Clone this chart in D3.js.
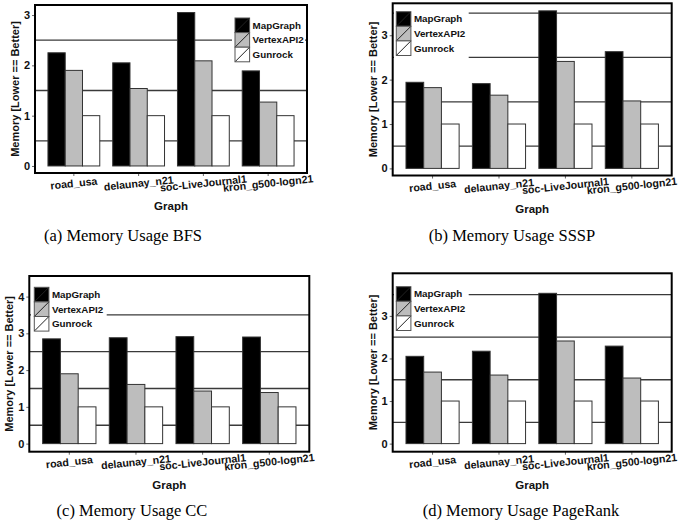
<!DOCTYPE html>
<html>
<head>
<meta charset="utf-8">
<script src="https://cdn.jsdelivr.net/npm/d3@7"></script>
<style>
  body { margin: 0; background: #fff; }
  svg { display: block; }
  .tick text { font-family: "Liberation Sans", Arial, sans-serif; font-weight: bold; fill: #111; }
</style>
</head>
<body>
<svg id="chart"></svg>
<script>
// categories and series
const graphs = ["road_usa", "delaunay_n21", "soc-LiveJournal1", "kron_g500-logn21"];
const series = ["MapGraph", "VertexAPI2", "Gunrock"];
const seriesColors = ["#000000", "#bdbdbd", "#ffffff"];

// normalized memory usage (Gunrock == 1)
const bfsMapGraph = [2.25, 2.05, 3.05, 1.89];
const bfsVertexAPI2 = [1.90, 1.54, 2.09, 1.27];
const bfsGunrock = [1, 1, 1, 1];

const ssspMapGraph = [1.94, 1.91, 3.55, 2.63];
const ssspVertexAPI2 = [1.82, 1.65, 2.41, 1.52];
const ssspGunrock = [1, 1, 1, 1];

const ccMapGraph = [2.85, 2.88, 2.91, 2.90];
const ccVertexAPI2 = [1.90, 1.61, 1.43, 1.39];
const ccGunrock = [1, 1, 1, 1];

const prMapGraph = [2.05, 2.17, 3.53, 2.29];
const prVertexAPI2 = [1.68, 1.61, 2.41, 1.54];
const prGunrock = [1, 1, 1, 1];

const yTicksA = [0, 1, 2, 3];
const yTicksB = [0, 1, 2, 3];
const yTicksC = [0, 1, 2, 3, 4];
const yTicksD = [0, 1, 2, 3];

const captions = ["(a) Memory Usage BFS", "(b) Memory Usage SSSP", "(c) Memory Usage CC", "(d) Memory Usage PageRank"];

const W = 694, H = 524;
const svg = d3.select("#chart").attr("width", W).attr("height", H);
svg.append("rect").attr("width", W).attr("height", H).attr("fill", "#fff");

// layout of each panel (frame in panel coords)
const panels = [
  { ox: 0, oy: 0, frame: [35, 307, 5, 173], domain: [-0.14, 3.2], ticks: yTicksA,
    grid: [0.5, 1.5, 2.5], legend: [235, 18], legendBg: [232, 305, 14, 64],
    data: [bfsMapGraph, bfsVertexAPI2, bfsGunrock], caption: captions[0], capX: 123, capY: 241 },
  { ox: 347, oy: 0, frame: [45.7, 324.7, 3.3, 175.5], domain: [-0.16, 3.72], ticks: yTicksB,
    grid: [0.5, 1.5, 2.5, 3.5], legend: [49.3, 11.7], legendBg: [47, 121.7, 9, 59],
    data: [ssspMapGraph, ssspVertexAPI2, ssspGunrock], caption: captions[1], capX: 165, capY: 241 },
  { ox: 0, oy: 270, frame: [29.3, 309.3, 6, 181.7], domain: [-0.22, 4.56], ticks: yTicksC,
    grid: [0.5, 1.5, 2.5, 3.5], legend: [34.3, 17.3], legendBg: [31, 106.7, 14, 65],
    data: [ccMapGraph, ccVertexAPI2, ccGunrock], caption: captions[2], capX: 132, capY: 246 },
  { ox: 347, oy: 270, frame: [45.7, 324.7, 3.3, 181.7], domain: [-0.19, 4.0], ticks: yTicksD,
    grid: [0.5, 1.5, 2.5, 3.5], legend: [49.3, 16.7], legendBg: [47, 121.7, 13, 64],
    data: [prMapGraph, prVertexAPI2, prGunrock], caption: captions[3], capX: 174, capY: 246 }
];

panels.forEach(drawPanel);

function drawPanel(p) {
  const g = svg.append("g").attr("transform", `translate(${p.ox},${p.oy})`);
  const [fx0, fx1, fy0, fy1] = p.frame;

  const x = d3.scaleBand().domain(graphs).range([fx0, fx1]).paddingInner(0.2).paddingOuter(0.2);
  const xSub = d3.scaleBand().domain(series).range([0, x.bandwidth()]);
  const y = d3.scaleLinear().domain(p.domain).range([fy1, fy0]);

  // half-step grid lines
  g.append("g").selectAll("line")
    .data(p.grid)
    .join("line")
    .attr("x1", fx0).attr("x2", fx1)
    .attr("y1", d => y(d)).attr("y2", d => y(d))
    .attr("stroke", "#3a3a3a")
    .attr("stroke-width", 1.3);

  // bars
  const rows = [];
  graphs.forEach((gr, i) => {
    series.forEach((s, j) => rows.push({ graph: gr, series: s, idx: j, value: p.data[j][i] }));
  });
  g.append("g").selectAll("rect")
    .data(rows)
    .join("rect")
    .attr("x", d => x(d.graph) + xSub(d.series))
    .attr("y", d => y(d.value))
    .attr("width", xSub.bandwidth())
    .attr("height", d => y(0) - y(d.value))
    .attr("fill", d => seriesColors[d.idx])
    .attr("stroke", "#333")
    .attr("stroke-width", 1);

  // y axis
  const yAxisG = g.append("g")
    .attr("transform", `translate(${fx0},0)`)
    .call(d3.axisLeft(y).tickValues(p.ticks).tickSize(3).tickPadding(2).tickFormat(d3.format("d")));
  yAxisG.select(".domain").remove();
  yAxisG.selectAll(".tick line").attr("stroke", "#666");
  yAxisG.selectAll(".tick text").attr("font-size", "11px");

  // x axis
  const xAxisG = g.append("g")
    .attr("transform", `translate(0,${fy1})`)
    .call(d3.axisBottom(x).tickSize(3).tickPadding(3));
  xAxisG.select(".domain").remove();
  xAxisG.selectAll(".tick line").attr("stroke", "#666");
  xAxisG.selectAll(".tick text")
    .attr("font-size", "10.6px")
    .attr("text-anchor", "middle")
    .attr("dy", "0")
    .attr("y", 14)
    .attr("transform", "rotate(-6,0,10)");

  // frame
  g.append("rect")
    .attr("x", fx0).attr("y", fy0)
    .attr("width", fx1 - fx0).attr("height", fy1 - fy0)
    .attr("fill", "none")
    .attr("stroke", "#000")
    .attr("stroke-width", 2);

  // axis titles
  g.append("text")
    .attr("x", (fx0 + fx1) / 2)
    .attr("y", fy1 + 37)
    .attr("text-anchor", "middle")
    .attr("font-family", "Liberation Sans, Arial, sans-serif")
    .attr("font-weight", "bold")
    .attr("font-size", "11.5px")
    .attr("fill", "#111")
    .text("Graph");

  g.append("text")
    .attr("transform", `translate(${fx0 - 16},${(fy0 + fy1) / 2}) rotate(-90)`)
    .attr("text-anchor", "middle")
    .attr("font-family", "Liberation Sans, Arial, sans-serif")
    .attr("font-weight", "bold")
    .attr("font-size", "11px")
    .attr("fill", "#111")
    .text("Memory [Lower == Better]");

  // legend
  const [lx, ly] = p.legend;
  const [bx0, bx1, by0, by1] = p.legendBg;
  const key = 14.6;
  g.append("rect")
    .attr("x", bx0).attr("y", by0)
    .attr("width", bx1 - bx0).attr("height", by1 - by0)
    .attr("fill", "#fff");
  const lg = g.append("g").attr("transform", `translate(${lx},${ly})`);
  const items = lg.selectAll("g")
    .data(series)
    .join("g")
    .attr("transform", (d, i) => `translate(0,${i * key})`);
  items.append("rect")
    .attr("width", key).attr("height", key)
    .attr("fill", (d, i) => seriesColors[i])
    .attr("stroke", "#555")
    .attr("stroke-width", 1);
  items.append("line")
    .attr("x1", 0.5).attr("y1", key - 0.5)
    .attr("x2", key - 0.5).attr("y2", 0.5)
    .attr("stroke", "#222")
    .attr("stroke-width", 1);
  items.append("text")
    .attr("x", key + 3)
    .attr("y", key / 2)
    .attr("dy", "0.35em")
    .attr("font-family", "Liberation Sans, Arial, sans-serif")
    .attr("font-weight", "bold")
    .attr("font-size", "9.8px")
    .attr("fill", "#111")
    .text(d => d);

  // caption
  g.append("text")
    .attr("x", p.capX)
    .attr("y", p.capY)
    .attr("text-anchor", "middle")
    .attr("font-family", "Liberation Serif, Times New Roman, serif")
    .attr("font-size", "16.5px")
    .attr("fill", "#000")
    .text(p.caption);
}
</script>
</body>
</html>
